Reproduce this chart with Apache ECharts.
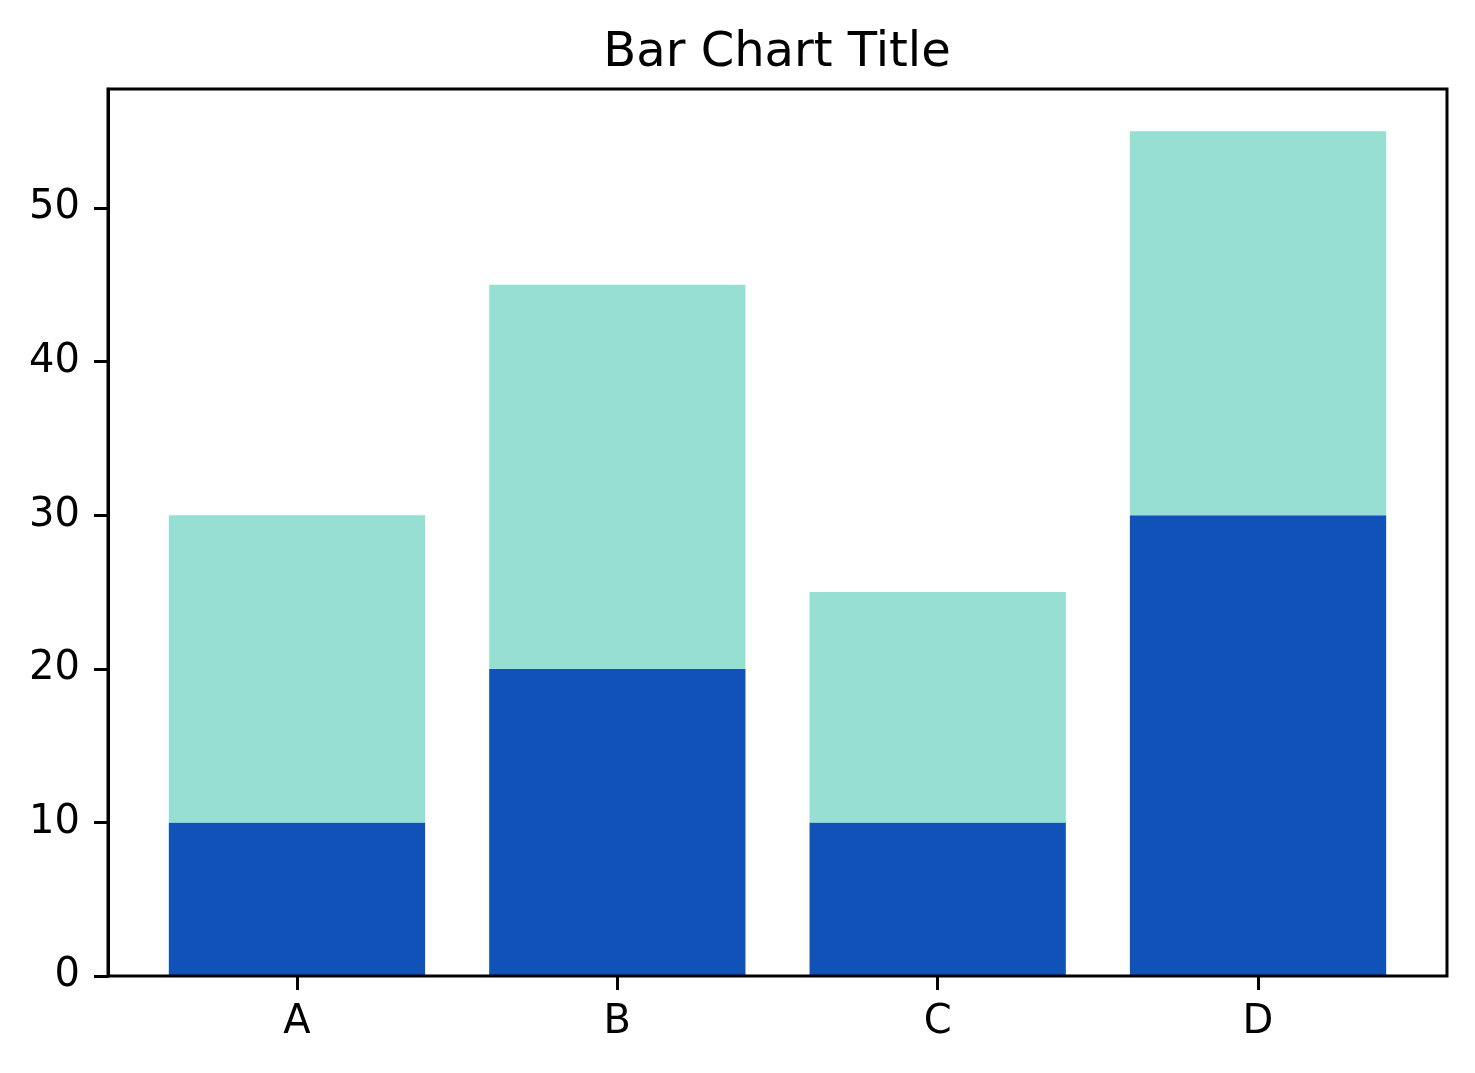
<!DOCTYPE html>
<html>
<head>
<meta charset="utf-8">
<script src="https://cdn.jsdelivr.net/npm/echarts@6/dist/echarts.min.js"></script>
<style>
  html, body { margin: 0; padding: 0; background: #fff; }
  #main { width: 1475px; height: 1073px; }
</style>
</head>
<body>
<div id="main"></div>
<script>
var categories = ['A', 'B', 'C', 'D'];
var bottomValues = [10, 20, 10, 30];
var topValues = [20, 25, 15, 25];
var yTicks = [0, 10, 20, 30, 40, 50];
var yMax = 57.75;

var font = 'DejaVu Sans';

// frame grid spans the full axes box, the bar grid is inset so bands match matplotlib spacing
var chart = echarts.init(document.getElementById('main'));
chart.setOption({
	animation: false,
	backgroundColor: '#fff',
	title: {
		text: 'Bar Chart Title',
		left: 772,
		top: 25,
		textAlign: 'center',
		textStyle: { fontFamily: font, fontSize: 48, fontWeight: 'normal', color: '#000' }
	},
	grid: [
		{ left: 108, right: 28, top: 89, bottom: 97, show: true, borderColor: '#000', borderWidth: 3, backgroundColor: 'transparent', z: 3 },
		{ left: 136.8, right: 56.8, top: 89, bottom: 97 }
	],
	xAxis: [
		{ gridIndex: 0, type: 'value', min: 0, max: 1, show: false },
		{
			gridIndex: 1,
			type: 'category',
			data: categories,
			axisLine: { show: false },
			axisTick: { show: true, alignWithLabel: true, length: 14, lineStyle: { color: '#000', width: 3 } },
			axisLabel: { fontFamily: font, fontSize: 40, color: '#000', margin: 27 },
			splitLine: { show: false }
		}
	],
	yAxis: [
		{
			gridIndex: 0,
			type: 'value',
			min: 0,
			max: yMax,
			interval: 10,
			axisLine: { show: true, lineStyle: { color: '#000', width: 3 } },
			axisTick: { show: true, length: 14, customValues: yTicks, lineStyle: { color: '#000', width: 3 } },
			axisLabel: { fontFamily: font, fontSize: 40, color: '#000', margin: 28, padding: [8, 0, 0, 0], customValues: yTicks },
			splitLine: { show: false }
		},
		{ gridIndex: 1, type: 'value', min: 0, max: yMax, show: false, splitLine: { show: false } }
	],
	series: [
		{
			type: 'bar',
			xAxisIndex: 1,
			yAxisIndex: 1,
			stack: 'total',
			barWidth: '80%',
			data: bottomValues,
			itemStyle: { color: '#1052b8' },
			z: 1
		},
		{
			type: 'bar',
			xAxisIndex: 1,
			yAxisIndex: 1,
			stack: 'total',
			barWidth: '80%',
			data: topValues,
			itemStyle: { color: '#98dfd3' },
			z: 1
		}
	]
});
</script>
</body>
</html>
